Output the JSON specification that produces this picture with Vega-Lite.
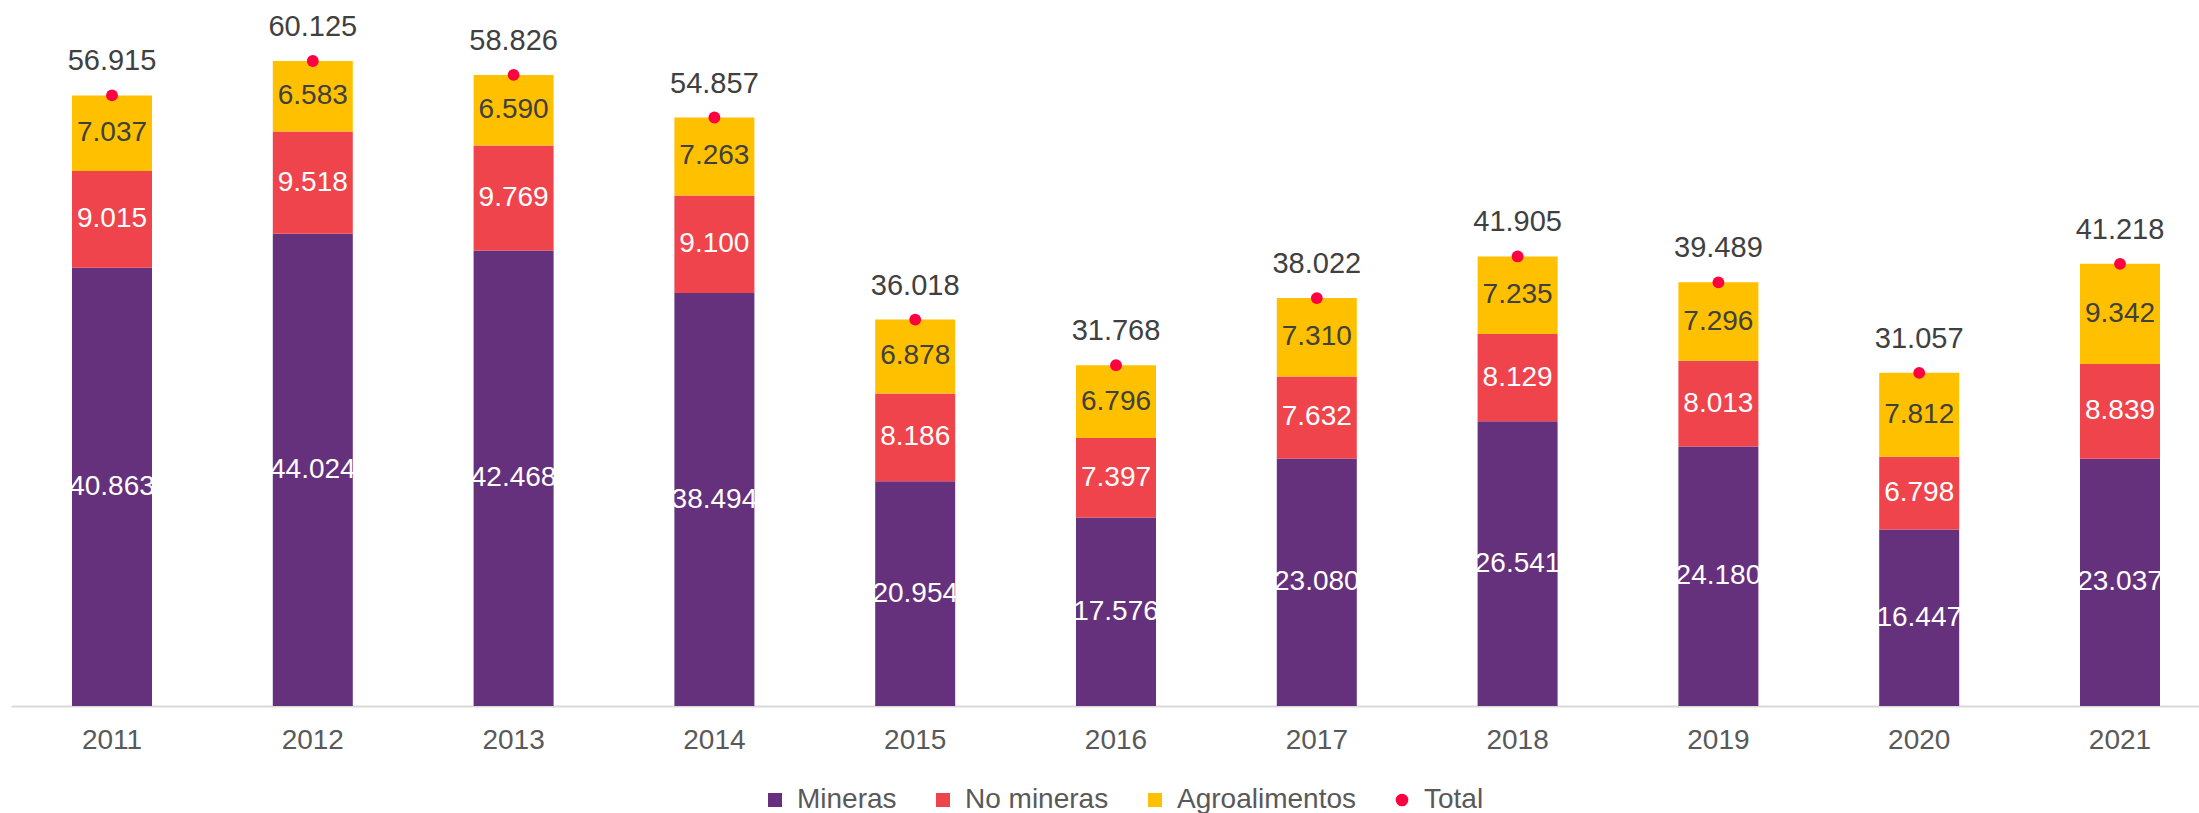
{
  "$schema": "https://vega.github.io/schema/vega-lite/v6.json",
  "autosize": {"type": "none"},
  "width": 2188,
  "height": 706,
  "padding": {"left": 11, "top": 0, "right": 0, "bottom": 107},
  "background": "white",
  "config": {
    "view": {"stroke": null},
    "font": "Liberation Sans"
  },
  "datasets": {
    "seg": [
      {"year": "2011", "tipo": "Mineras", "v": 40.863},
      {"year": "2011", "tipo": "No mineras", "v": 9.015},
      {"year": "2011", "tipo": "Agroalimentos", "v": 7.037},
      {"year": "2012", "tipo": "Mineras", "v": 44.024},
      {"year": "2012", "tipo": "No mineras", "v": 9.518},
      {"year": "2012", "tipo": "Agroalimentos", "v": 6.583},
      {"year": "2013", "tipo": "Mineras", "v": 42.468},
      {"year": "2013", "tipo": "No mineras", "v": 9.769},
      {"year": "2013", "tipo": "Agroalimentos", "v": 6.590},
      {"year": "2014", "tipo": "Mineras", "v": 38.494},
      {"year": "2014", "tipo": "No mineras", "v": 9.100},
      {"year": "2014", "tipo": "Agroalimentos", "v": 7.263},
      {"year": "2015", "tipo": "Mineras", "v": 20.954},
      {"year": "2015", "tipo": "No mineras", "v": 8.186},
      {"year": "2015", "tipo": "Agroalimentos", "v": 6.878},
      {"year": "2016", "tipo": "Mineras", "v": 17.576},
      {"year": "2016", "tipo": "No mineras", "v": 7.397},
      {"year": "2016", "tipo": "Agroalimentos", "v": 6.796},
      {"year": "2017", "tipo": "Mineras", "v": 23.080},
      {"year": "2017", "tipo": "No mineras", "v": 7.632},
      {"year": "2017", "tipo": "Agroalimentos", "v": 7.310},
      {"year": "2018", "tipo": "Mineras", "v": 26.541},
      {"year": "2018", "tipo": "No mineras", "v": 8.129},
      {"year": "2018", "tipo": "Agroalimentos", "v": 7.235},
      {"year": "2019", "tipo": "Mineras", "v": 24.180},
      {"year": "2019", "tipo": "No mineras", "v": 8.013},
      {"year": "2019", "tipo": "Agroalimentos", "v": 7.296},
      {"year": "2020", "tipo": "Mineras", "v": 16.447},
      {"year": "2020", "tipo": "No mineras", "v": 6.798},
      {"year": "2020", "tipo": "Agroalimentos", "v": 7.812},
      {"year": "2021", "tipo": "Mineras", "v": 23.037},
      {"year": "2021", "tipo": "No mineras", "v": 8.839},
      {"year": "2021", "tipo": "Agroalimentos", "v": 9.342}
    ],
    "tot": [
      {"year": "2011", "total": 56.915},
      {"year": "2012", "total": 60.125},
      {"year": "2013", "total": 58.826},
      {"year": "2014", "total": 54.857},
      {"year": "2015", "total": 36.018},
      {"year": "2016", "total": 31.768},
      {"year": "2017", "total": 38.022},
      {"year": "2018", "total": 41.905},
      {"year": "2019", "total": 39.489},
      {"year": "2020", "total": 31.057},
      {"year": "2021", "total": 41.218}
    ]
  },
  "encoding": {
    "x": {
      "field": "year",
      "type": "nominal",
      "scale": {"paddingInner": 0.6016, "paddingOuter": 0.249, "align": 0.61},
      "axis": {
        "title": null,
        "labelAngle": 0,
        "labelFontSize": 28,
        "labelColor": "#595959",
        "labelPadding": 20,
        "ticks": false,
        "domainColor": "#d9d9d9",
        "domainWidth": 2,
        "grid": false
      }
    }
  },
  "layer": [
    {
      "data": {"name": "seg"},
      "transform": [
        {"calculate": "indexof(['Mineras','No mineras','Agroalimentos'], datum.tipo)", "as": "ord"},
        {"stack": "v", "groupby": ["year"], "sort": [{"field": "ord", "order": "ascending"}], "as": ["y0", "y1"]},
        {"calculate": "(datum.y0 + datum.y1) / 2", "as": "mid"}
      ],
      "layer": [
        {
          "mark": {"type": "bar"},
          "encoding": {
            "y": {"field": "y0", "type": "quantitative", "scale": {"domain": [0, 65.81], "nice": false}, "axis": null},
            "y2": {"field": "y1"},
            "color": {
              "field": "tipo",
              "type": "nominal",
              "scale": {
                "domain": ["Mineras", "No mineras", "Agroalimentos", "Total"],
                "range": ["#65317C", "#EF444C", "#FFC000", "#FF0040"]
              },
              "legend": {
                "title": null,
                "orient": "none",
                "legendX": 750,
                "legendY": 786,
                "direction": "horizontal",
                "labelFontSize": 28,
                "labelColor": "#595959",
                "labelLimit": 0,
                "columnPadding": 32,
                "labelOffset": 8,
                "symbolStrokeWidth": 0,
                "encode": {
                  "symbols": {
                    "update": {
                      "shape": {"signal": "datum.value === 'Total' ? 'circle' : 'square'"},
                      "size": {"signal": "datum.value === 'Total' ? 160 : 196"}
                    }
                  }
                }
              }
            }
          }
        },
        {
          "mark": {"type": "text", "fontSize": 28, "baseline": "middle", "align": "center"},
          "encoding": {
            "y": {"field": "mid", "type": "quantitative"},
            "text": {"field": "v", "type": "quantitative", "format": ".3f"},
            "color": {
              "condition": {"test": "datum.tipo === 'Agroalimentos'", "value": "#404040"},
              "value": "#ffffff"
            }
          }
        }
      ]
    },
    {
      "data": {"name": "tot"},
      "layer": [
        {
          "mark": {"type": "point", "filled": true, "size": 140, "opacity": 1, "shape": "circle"},
          "encoding": {
            "y": {"field": "total", "type": "quantitative"},
            "color": {"datum": "Total"}
          }
        },
        {
          "mark": {"type": "text", "fontSize": 29, "baseline": "middle", "align": "center", "dy": -34, "color": "#404040"},
          "encoding": {
            "y": {"field": "total", "type": "quantitative"},
            "text": {"field": "total", "type": "quantitative", "format": ".3f"}
          }
        }
      ]
    }
  ]
}
